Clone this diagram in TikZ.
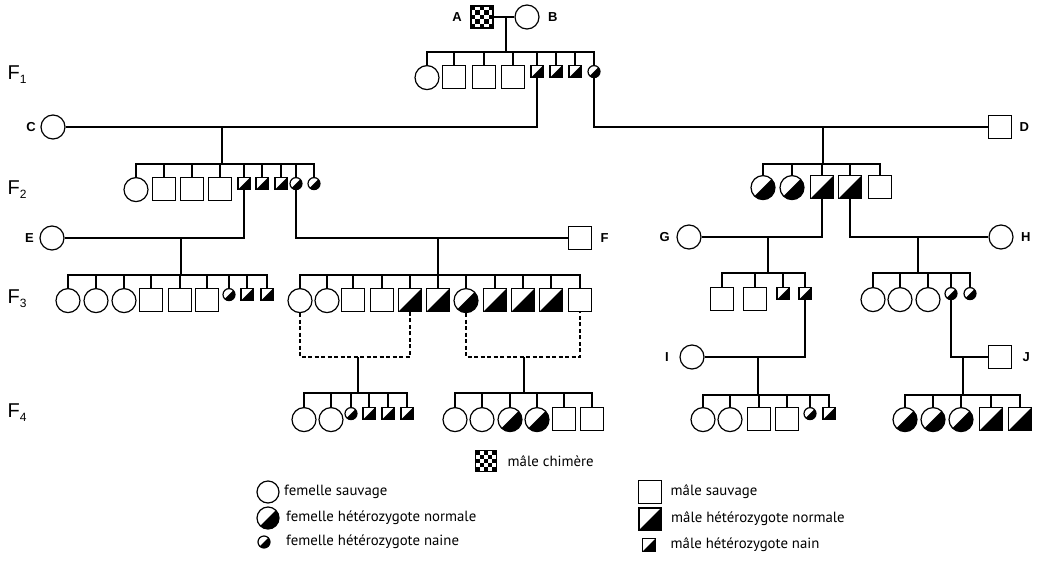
\documentclass[tikz,border=0pt]{standalone}
\usepackage{fontspec}
\setmainfont{Liberation Sans}
\newfontfamily\legfont{PT Sans}
\usetikzlibrary{positioning, calc}

\begin{document}
\begin{tikzpicture}[
    x=1pt, y=-1pt,
    line width=1.2pt,
    ind/.style={draw, line width=1.2pt, inner sep=0pt},
    fem/.style={ind, circle, minimum size=24pt},
    mal/.style={ind, rectangle, minimum size=23pt},
    half/.style={path picture={\fill (path picture bounding box.south west)
        -- (path picture bounding box.north east)
        -- (path picture bounding box.south east) -- cycle;}},
    hetf/.style={fem, half},
    hetm/.style={mal, half},
    nainf/.style={ind, circle, minimum size=12pt, half},
    nainm/.style={ind, rectangle, minimum size=12pt, half},
    chim/.style={ind, rectangle, minimum size=#1, path picture={
        \foreach \c/\r in {0/0,2/0,4/0,1/1,3/1,0/2,2/2,4/2,1/3,3/3,0/4,2/4,4/4}
          \fill ([shift={(\c*#1/5,\r*#1/5)}]path picture bounding box.south west)
                rectangle ++(#1/5,#1/5);}},
    lab/.style={font=\bfseries\fontsize{13}{13}\selectfont, inner sep=0pt},
    gen/.style={font=\fontsize{20}{20}\selectfont, inner sep=0pt},
    leg/.style={font=\legfont\fontsize{14.8}{14.8}\selectfont, anchor=west, inner sep=0pt},
    sibfour/.style={line width=1.9pt},
    dashedlink/.style={dashed, line width=1.2pt, dash pattern=on 4pt off 2.5pt},
]
\useasboundingbox (0,0) rectangle (1040,562);

% --- Generation labels ---
\node[gen] (gen1) at (17,75)  {F\raisebox{-4pt}{\fontsize{12}{12}\selectfont 1}};
\node[gen] (gen2) at (17,190) {F\raisebox{-4pt}{\fontsize{12}{12}\selectfont 2}};
\node[gen] (gen3) at (17,299) {F\raisebox{-4pt}{\fontsize{12}{12}\selectfont 3}};
\node[gen] (gen4) at (17,413) {F\raisebox{-4pt}{\fontsize{12}{12}\selectfont 4}};

% --- Founders A x B ---
\node[chim=22pt] (a) at (482,17) {};
\node[fem] (b) at (527,17) {};
\node[lab, left=8pt of a] {A};
\node[lab, right=8pt of b] {B};
\draw (a) -- (b);
\coordinate (s1) at (506,52);
\draw (s1) -- (s1 |- a);

% --- F1 ---
\foreach \x/\s [count=\i] in {427/fem,454/mal,484/mal,513/mal,537/nainm,556/nainm,575/nainm,594/nainf}
  \node[\s, anchor=north] (f1-\i) at (\x,65) {};
\foreach \i in {1,...,8} \draw (s1) -| (f1-\i.north);

% --- Mates C and D ---
\node[fem] (c) at (53,127) {};
\node[lab, left=4pt of c] {C};
\node[mal] (d) at (1000,127) {};
\node[lab, right=7pt of d] {D};
\draw (c.east) -| (f1-5.south);
\draw (f1-8.south) |- (d.west);
\coordinate (s2) at (222,164);
\coordinate (s3) at (823,164);
\draw (s2) -- (s2 |- c);
\draw (s3) -- (s3 |- d);

% --- F2 ---
\foreach \x/\s [count=\i] in {136/fem,164/mal,192/mal,220/mal,244/nainm,262/nainm,281/nainm,296/nainf,314/nainf}
  \node[\s, anchor=north] (f2a-\i) at (\x,177) {};
\foreach \i in {1,...,9} \draw (s2) -| (f2a-\i.north);
\foreach \x/\s [count=\i] in {763/hetf,792/hetf,822/hetm,850/hetm,880/mal}
  \node[\s, anchor=north] (f2b-\i) at (\x,175) {};
\foreach \i in {1,...,5} \draw (s3) -| (f2b-\i.north);

% --- Mates E, F, G, H ---
\node[fem] (e) at (52,238) {};
\node[lab, left=5pt of e] {E};
\node[mal] (f) at (580,238) {};
\node[lab, right=8pt of f] {F};
\draw (e.east) -| (f2a-5.south);
\draw (f2a-8.south) |- (f.west);
\coordinate (s4) at (181,275);
\coordinate (s5) at (438,275);
\draw (s4) -- (s4 |- e);
\draw (s5) -- (s5 |- f);

\node[fem] (g) at (689,237) {};
\node[lab, left=6pt of g] {G};
\node[fem] (h) at (1001,237) {};
\node[lab, right=7pt of h] {H};
\draw (g.east) -| (f2b-3.south);
\draw (f2b-4.south) |- (h.west);
\coordinate (s6) at (768,273);
\coordinate (s7) at (918,273);
\draw (s6) -- (s6 |- g);
\draw (s7) -- (s7 |- h);

% --- F3 ---
\foreach \x/\s [count=\i] in {68/fem,96/fem,124/fem,151/mal,180/mal,207/mal,229/nainf,247/nainm,267/nainm}
  \node[\s, anchor=north] (f3a-\i) at (\x,288) {};
\foreach \i in {1,...,9} \draw (s4) -| (f3a-\i.north);
\foreach \x/\s [count=\i] in {300/fem,327/fem,353/mal,382/mal,410/hetm,438/hetm,466/hetf,495/hetm,523/hetm,551/hetm,580/mal}
  \node[\s, anchor=north] (f3b-\i) at (\x,288) {};
\foreach \i in {1,...,11} \draw (s5) -| (f3b-\i.north);
\foreach \x/\s [count=\i] in {722/mal,755/mal,783/nainm,805/nainm}
  \node[\s, anchor=north] (f3c-\i) at (\x,287) {};
\foreach \i in {1,...,4} \draw (s6) -| (f3c-\i.north);
\foreach \x/\s [count=\i] in {873/fem,900/fem,928/fem,951/nainf,970/nainf}
  \node[\s, anchor=north] (f3d-\i) at (\x,287) {};
\foreach \i in {1,...,5} \draw (s7) -| (f3d-\i.north);

% --- Sib crosses (dashed) ---
\coordinate (s8) at (358,357);
\coordinate (s9) at (524,357);
\draw[dashedlink] (f3b-1.south) |- (s8) -| (f3b-5.south);
\draw[dashedlink] (f3b-7.south) |- (s9) -| (f3b-11.south);
\coordinate (s10) at (358,393);
\coordinate (s11) at (524,393);
\draw (s8) -- (s10);
\draw (s9) -- (s11);

% --- Mates I and J ---
\node[fem] (i) at (692,357) {};
\node[lab, left=10pt of i] {I};
\node[mal] (j) at (1000,357) {};
\node[lab, right=10pt of j] {J};
\draw (i.east) -| (f3c-4.south);
\draw (f3d-4.south) |- (j.west);
\coordinate (s12) at (758,395);
\coordinate (s13) at (963,395);
\draw (s12) -- (s12 |- i);
\draw (s13) -- (s13 |- j);

% --- F4 ---
\foreach \x/\s [count=\i] in {304/fem,331/fem,351/nainf,369/nainm,388/nainm,407/nainm}
  \node[\s, anchor=north] (f4a-\i) at (\x,407) {};
\foreach \i in {1,...,6} \draw (s10) -| (f4a-\i.north);
\draw[sibfour] (f4a-1.north |- s10) -- (f4a-6.north |- s10);
\foreach \x/\s [count=\i] in {455/fem,482/fem,510/hetf,537/hetf,564/mal,592/mal}
  \node[\s, anchor=north] (f4b-\i) at (\x,407) {};
\foreach \i in {1,...,6} \draw (s11) -| (f4b-\i.north);
\draw[sibfour] (f4b-1.north |- s11) -- (f4b-6.north |- s11);
\foreach \x/\s [count=\i] in {703/fem,730/fem,759/mal,787/mal,810/nainf,829/nainm}
  \node[\s, anchor=north] (f4c-\i) at (\x,407) {};
\foreach \i in {1,...,6} \draw (s12) -| (f4c-\i.north);
\draw[sibfour] (f4c-1.north |- s12) -- (f4c-6.north |- s12);
\foreach \x/\s [count=\i] in {905/hetf,933/hetf,961/hetf,991/hetm,1020/hetm}
  \node[\s, anchor=north] (f4d-\i) at (\x,407) {};
\foreach \i in {1,...,5} \draw (s13) -| (f4d-\i.north);
\draw[sibfour] (f4d-1.north |- s13) -- (f4d-5.north |- s13);

% --- Legend ---
\node[chim=21pt] (k1) at (486,461) {};
\node[leg, right=10pt of k1] {mâle chimère};
\node[fem, minimum size=22pt] (k2) at (268,492) {};
\node[leg, right=4pt of k2] {femelle sauvage};
\node[hetf, minimum size=22pt] (k3) at (268,518) {};
\node[leg, right=6pt of k3] {femelle hétérozygote normale};
\node[nainf] (k4) at (264,542) {};
\node[leg, right=15pt of k4] {femelle hétérozygote naine};
\node[mal] (k5) at (650,492) {};
\node[leg, right=8pt of k5] {mâle sauvage};
\node[hetm, minimum size=22pt] (k6) at (650,519) {};
\node[leg, right=9pt of k6] {mâle hétérozygote normale};
\node[nainm, minimum size=13pt] (k7) at (649,545) {};
\node[leg, right=14pt of k7] {mâle hétérozygote nain};

\end{tikzpicture}
\end{document}
